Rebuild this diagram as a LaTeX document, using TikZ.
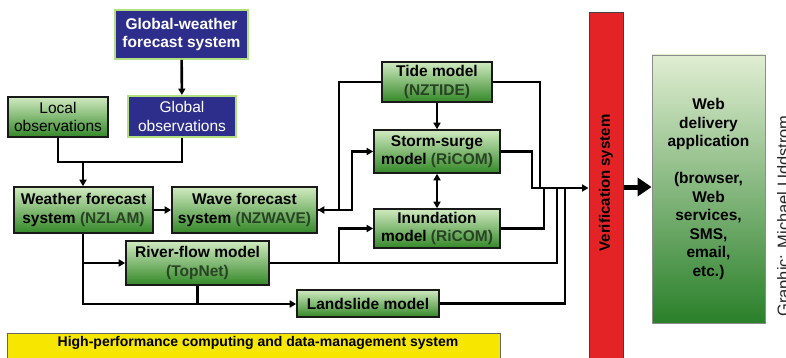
\documentclass[tikz,border=0pt]{standalone}
\usepackage{fontspec}
\setmainfont{Liberation Sans}
\usetikzlibrary{arrows.meta}
\definecolor{gtop}{RGB}{208,234,192}
\definecolor{gbot}{RGB}{52,136,40}
\definecolor{bluebox}{RGB}{45,45,140}
\definecolor{blueedge}{RGB}{178,224,128}
\definecolor{paren}{RGB}{40,66,36}
\definecolor{redbar}{RGB}{228,35,38}
\definecolor{yellowbar}{RGB}{246,230,0}
\definecolor{wtop}{RGB}{224,238,210}
\definecolor{wbot}{RGB}{42,128,42}
\newcommand{\pn}[1]{\textcolor{paren}{#1}}
\begin{document}
\begin{tikzpicture}[x=1pt,y=-1pt,
  gbox/.style={draw=black!90, line width=1.6pt, top color=gtop, bottom color=gbot,
    inner sep=0pt, align=center, font=\bfseries\fontsize{15.5}{18.5}\selectfont},
  bbox/.style={draw=blueedge, line width=1.9pt, fill=bluebox, text=white,
    inner sep=0pt, align=center, font=\fontsize{15.5}{18.5}\selectfont},
  conn/.style={draw=black, line width=2.6pt},
  arr/.style={conn, -{Triangle[length=6.5pt,width=7pt]}},
  darr/.style={conn, {Triangle[length=6.5pt,width=7pt]}-{Triangle[length=6.5pt,width=7pt]}}]
\useasboundingbox (0,0) rectangle (786,358);
\fill[white] (0,0) rectangle (786,358);
\clip (0,0) rectangle (786,358);

% blue boxes
\node[bbox, font=\bfseries\fontsize{15.5}{18}\selectfont, minimum width=133pt, minimum height=49pt] (gw) at (181.5,34.5) {Global-weather\\forecast system};
\node[bbox, minimum width=108pt, minimum height=41pt] (gobs) at (182,116.5) {Global\\observations};
% green boxes
\node[gbox, font=\fontsize{15.5}{18.5}\selectfont, minimum width=100pt, minimum height=40pt] (lobs) at (58,117) {Local\\observations};
\node[gbox, minimum width=139pt, minimum height=46pt] (wf) at (83.5,210) {Weather forecast\\system \pn{(NZLAM)}};
\node[gbox, minimum width=145pt, minimum height=46pt] (wave) at (244.5,210) {Wave forecast\\system \pn{(NZWAVE)}};
\node[gbox, minimum width=143pt, minimum height=44pt] (river) at (197.5,263) {River-flow model\\\pn{(TopNet)}};
\node[gbox, minimum width=142pt, minimum height=27pt] (land) at (368,303.5) {Landslide model};
\node[gbox, minimum width=110pt, minimum height=40pt] (tide) at (437,82) {Tide model\\\pn{(NZTIDE)}};
\node[gbox, minimum width=126pt, minimum height=43pt] (storm) at (437,151.5) {Storm-surge\\model \pn{(RiCOM)}};
\node[gbox, minimum width=126pt, minimum height=39pt] (inund) at (437,228.5) {Inundation\\model \pn{(RiCOM)}};

% verification bar
\node[draw=black!75, line width=1pt, fill=redbar, minimum width=34pt, minimum height=360pt, inner sep=0pt] (verif) at (606,193) {};
\node[rotate=90, font=\bfseries\fontsize{15}{18}\selectfont, inner sep=0pt] (veriftext) at (606,183) {Verification system};

% web delivery box
\node[draw=black!45, line width=0.8pt, top color=wtop, bottom color=wbot, minimum width=113pt, minimum height=268pt,
  inner sep=0pt, align=center, font=\bfseries\fontsize{15.5}{18.5}\selectfont] (web) at (708.5,189)
  {Web\\delivery\\application\\[18.5pt](browser,\\Web\\services,\\SMS,\\email,\\etc.)};

% HPC bar
\node[draw=black!60, line width=0.8pt, fill=yellowbar, minimum width=493pt, minimum height=34pt, inner sep=0pt] (hpc) at (253.5,350) {};
\node[font=\bfseries\fontsize{14}{16}\selectfont, inner sep=0pt] (hpctext) at (258,343) {High-performance computing and data-management system};

% credit
\node[rotate=90, anchor=base west, font=\fontsize{16.5}{18}\selectfont, text=black!85, inner sep=0pt] (credit) at (789,317) {Graphic: Michael Uddstrom};

% connectors
\draw[arr] (gw) -- (gobs);
\coordinate (jobs) at (83,162);
\draw[conn] (lobs.south) |- (jobs) -| (gobs.south);
\draw[arr] (jobs) -- (jobs |- wf.north);
\draw[arr] (wf) -- (wave);

\coordinate (jl) at (83,304);
\draw[arr] (jobs |- wf.south) -- (jl) -- (jl -| land.west);
\draw[arr] (83,263) -- (river.west);
\draw[conn] (river.south) -- (river.south |- jl);

\coordinate (tw) at (339,82);
\draw[arr] (tide.west) -- (tw) -- (339,210) -- (wave.east);
\draw[arr] (wave.east) -- (352,210) |- (storm.west);
\draw[arr] (tide) -- (storm);
\draw[darr] (storm) -- (inund);

\coordinate (jv) at (532,188);
\draw[conn] (river.east) -- (557,263) -- (557,188);
\draw[arr] (339,263) |- (inund.west);
\draw[conn] (tide.east) -| (540,188);
\draw[conn] (inund.east) -| (544,188);
\draw[conn] (land.east) -| (565,188);
\draw[arr] (storm.east) -| (jv) -- (jv -| verif.west);

\draw[line width=5pt, -{Triangle[length=14pt,width=18pt]}] (verif.east |- 0,187) -- (web.west |- 0,187);
\end{tikzpicture}
\end{document}
